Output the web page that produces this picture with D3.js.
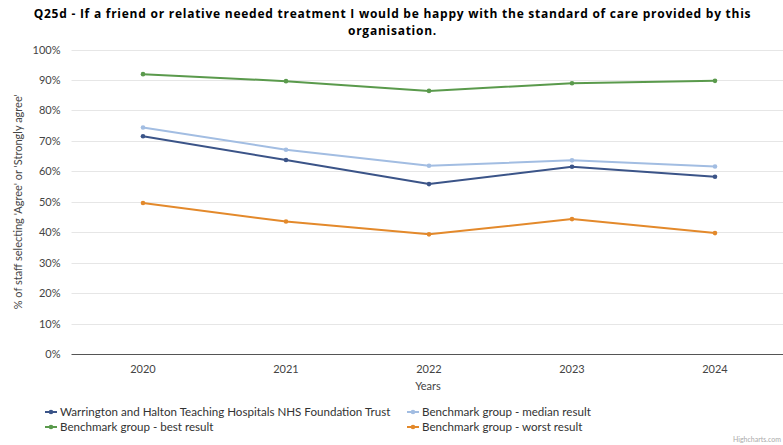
<!DOCTYPE html>
<html>
<head>
<meta charset="utf-8">
<script src="https://cdn.jsdelivr.net/npm/d3@7"></script>
<style>
  body { margin: 0; background: #fff; }
  svg { font-family: Lato, "Open Sans", sans-serif; }
</style>
</head>
<body>
<div id="wrapper"></div>
<script>
// chart data
const years = ["2020", "2021", "2022", "2023", "2024"]
const trustValues = [71.5, 63.7, 55.8, 61.5, 58.2]
const medianValues = [74.4, 67.1, 61.8, 63.6, 61.6]
const bestValues = [91.9, 89.6, 86.4, 88.9, 89.7]
const worstValues = [49.6, 43.5, 39.3, 44.3, 39.7]
const yTicks = [0, 10, 20, 30, 40, 50, 60, 70, 80, 90, 100]
const seriesNames = [
  "Warrington and Halton Teaching Hospitals NHS Foundation Trust",
  "Benchmark group - median result",
  "Benchmark group - best result",
  "Benchmark group - worst result"
]

const titleLines = [
  "Q25d - If a friend or relative needed treatment I would be happy with the standard of care provided by this",
  "organisation."
]

function drawChart() {
  const dims = {
    width: 783,
    height: 445,
    plotLeft: 71.5,
    plotRight: 786.5,
    plotTop: 49.5,
    plotBottom: 354
  }

  const series = [
    { name: seriesNames[0], values: trustValues, color: "#3b5488" },
    { name: seriesNames[1], values: medianValues, color: "#a2bde2" },
    { name: seriesNames[2], values: bestValues, color: "#5a9a4c" },
    { name: seriesNames[3], values: worstValues, color: "#e3892b" }
  ]

  const svg = d3.select("#wrapper")
    .append("svg")
      .attr("width", dims.width)
      .attr("height", dims.height)

  // title, one text per line
  svg.append("g")
    .selectAll("text")
    .data(titleLines)
    .join("text")
      .attr("x", dims.width / 2 + 1)
      .attr("y", (d, i) => 18 + i * 16.5)
      .attr("text-anchor", "middle")
      .attr("font-family", "'Open Sans', sans-serif")
      .attr("font-weight", "bold")
      .attr("font-size", 12)
      .attr("letter-spacing", 0.75)
      .attr("fill", "#000")
      .text(d => d)

  // scales
  const xScale = d3.scaleBand()
    .domain(years)
    .range([dims.plotLeft, dims.plotRight])

  const yScale = d3.scaleLinear()
    .domain([0, 100])
    .range([dims.plotBottom, dims.plotTop])

  // gridlines
  svg.append("g")
    .selectAll("line")
    .data(yTicks.filter(d => d > 0))
    .join("line")
      .attr("x1", dims.plotLeft)
      .attr("x2", dims.plotRight)
      .attr("y1", d => Math.round(yScale(d)) + 0.5)
      .attr("y2", d => Math.round(yScale(d)) + 0.5)
      .attr("stroke", "#e6e6e6")
      .attr("stroke-width", 1)

  // y axis labels
  const yAxis = d3.axisLeft(yScale)
    .tickValues(yTicks)
    .tickFormat(d => d + "%")
    .tickSize(0)
    .tickPadding(11)
  const yAxisGroup = svg.append("g")
    .attr("transform", `translate(${dims.plotLeft}, 0)`)
    .call(yAxis)
  yAxisGroup.select(".domain").remove()
  yAxisGroup.selectAll("text")
    .attr("font-family", "Lato, sans-serif")
    .attr("font-size", 11)
    .attr("fill", "#444")

  // x axis
  const xAxis = d3.axisBottom(xScale).tickSize(0).tickPadding(11)
  const xAxisGroup = svg.append("g")
    .attr("transform", `translate(0, ${dims.plotBottom})`)
    .call(xAxis)
  xAxisGroup.select(".domain")
    .attr("stroke", "#555")
    .attr("d", `M${dims.plotLeft},0.5H${dims.plotRight}`)
  xAxisGroup.selectAll("text")
    .attr("font-family", "Lato, sans-serif")
    .attr("font-size", 11)
    .attr("fill", "#444")

  // axis titles
  svg.append("text")
    .attr("x", (dims.plotLeft + dims.plotRight) / 2 - 1)
    .attr("y", 390)
    .attr("text-anchor", "middle")
    .attr("font-size", 11)
    .attr("fill", "#444")
    .text("Years")

  svg.append("text")
    .attr("transform", `translate(22, ${(dims.plotTop + dims.plotBottom) / 2}) rotate(-90)`)
    .attr("text-anchor", "middle")
    .attr("font-size", 11)
    .attr("fill", "#444")
    .text("% of staff selecting 'Agree' or 'Strongly agree'")

  // lines and markers
  const lineGen = d3.line()
    .x((d, i) => xScale(years[i]) + xScale.bandwidth() / 2)
    .y(d => yScale(d))

  const seriesGroups = svg.append("g")
    .selectAll("g")
    .data(series)
    .join("g")

  seriesGroups.append("path")
    .attr("d", d => lineGen(d.values))
    .attr("fill", "none")
    .attr("stroke", d => d.color)
    .attr("stroke-width", 2)
    .attr("stroke-linejoin", "round")

  seriesGroups.selectAll("circle")
    .data(d => d.values.map((v, i) => ({ v, i, color: d.color })))
    .join("circle")
      .attr("cx", d => xScale(years[d.i]) + xScale.bandwidth() / 2)
      .attr("cy", d => yScale(d.v))
      .attr("r", 2.3)
      .attr("fill", d => d.color)

  // legend, two columns
  const legendCols = [45, 407]
  const legendRows = [412, 427]
  const legend = svg.append("g")
    .selectAll("g")
    .data(series)
    .join("g")
      .attr("transform", (d, i) => `translate(${legendCols[i % 2]}, ${legendRows[Math.floor(i / 2)]})`)

  legend.append("line")
    .attr("x1", 0)
    .attr("x2", 12)
    .attr("y1", 0)
    .attr("y2", 0)
    .attr("stroke", d => d.color)
    .attr("stroke-width", 2)
  legend.append("circle")
    .attr("cx", 6)
    .attr("cy", 0)
    .attr("r", 2.3)
    .attr("fill", d => d.color)
  legend.append("text")
    .attr("x", 15)
    .attr("y", 4)
    .attr("font-size", 11.6)
    .attr("fill", "#333")
    .text(d => d.name)

  // credits
  svg.append("text")
    .attr("x", 781)
    .attr("y", 442)
    .attr("text-anchor", "end")
    .attr("font-size", 7)
    .attr("fill", "#aaa")
    .text("Highcharts.com")
}

drawChart()
</script>
</body>
</html>
